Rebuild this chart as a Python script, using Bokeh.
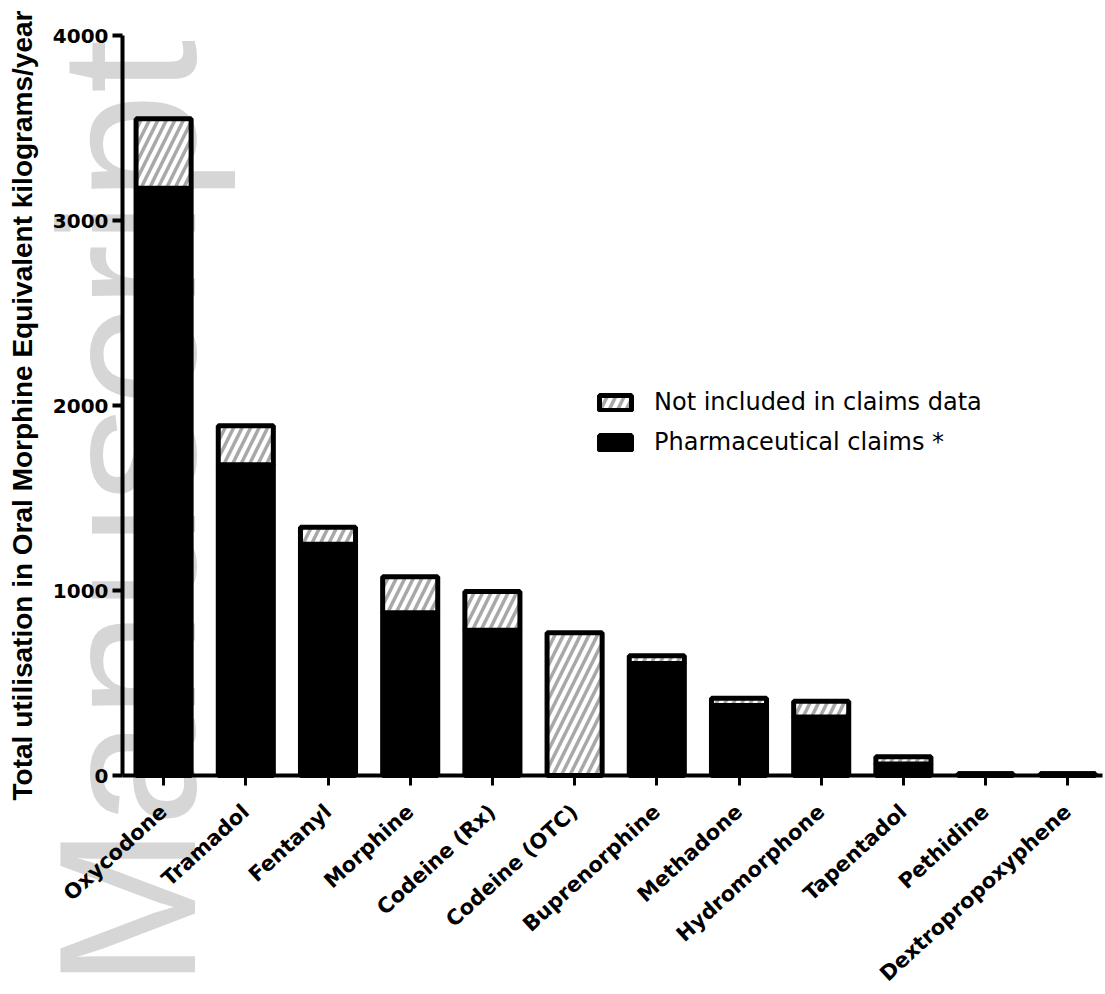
import math
from bokeh.plotting import figure
from bokeh.models import (Range1d, FixedTicker, Legend, LegendItem, Label,
                          ColumnDataSource)
from bokeh.embed import file_html
from bokeh.resources import INLINE

# ---- data ----
categories = ["Oxycodone", "Tramadol", "Fentanyl", "Morphine", "Codeine (Rx)",
              "Codeine (OTC)", "Buprenorphine", "Methadone", "Hydromorphone",
              "Tapentadol", "Pethidine", "Dextropropoxyphene"]
claims = [3175, 1680, 1250, 880, 785, 0, 605, 378, 316, 62, 10, 10]
not_included = [375, 210, 92, 195, 210, 772, 42, 40, 86, 40, 0, 0]
y_ticks = [0, 1000, 2000, 3000, 4000]
y_title = "Total utilisation in Oral Morphine Equivalent kilograms/year"
legend_labels = ["Not included in claims data", "Pharmaceutical claims *"]
watermark = "Manuscript"

xs = list(range(len(categories)))
totals = [c + n for c, n in zip(claims, not_included)]
src = ColumnDataSource(dict(x=xs, claims=claims, total=totals,
                            zero=[0] * len(xs)))

ARIAL = "Liberation Sans"
WIDE = "DejaVu Sans"

# layout: the frame covers the whole canvas, axes are pinned at fixed
# data locations so the watermark can extend into the margins
W, H = 1104, 990
AX_LEFT_PX, AX_BOTTOM_PX, AX_TOP_PX = 122, 775, 35
KX = 82.2                       # px per category
KY = (AX_BOTTOM_PX - AX_TOP_PX) / 4000.0
x0, x1 = -0.5, 11.42
xr = Range1d(x0 - AX_LEFT_PX / KX, x0 + (W - AX_LEFT_PX) / KX)
yr = Range1d(-(H - AX_BOTTOM_PX) / KY, 4000 + AX_TOP_PX / KY)

p = figure(width=W, height=H, x_range=xr, y_range=yr,
           output_backend="svg", toolbar_location=None, min_border=0,
           min_border_left=0, min_border_right=0,
           min_border_top=0, min_border_bottom=0)
p.outline_line_color = None
p.xgrid.visible = False
p.ygrid.visible = False
p.background_fill_color = "white"
p.border_fill_color = "white"

# watermark of the source document (behind the bars)
wm = Label(x=x0 + 5.0 / KX, y=yr.start + 12, text=watermark, angle=math.pi / 2,
           text_font=ARIAL, text_font_size="194px", text_color="#d6d6d6",
           text_alpha=1.0, text_baseline="alphabetic", text_align="left",
           level="underlay")
p.add_layout(wm)

BW = 0.67
r_claims = p.vbar(x="x", bottom="zero", top="claims", width=BW, source=src,
                  fill_color="black", line_color="black", line_width=5)
r_not = p.vbar(x="x", bottom="claims", top="total", width=BW, source=src,
               fill_color="white", line_color="black", line_width=5,
               hatch_pattern="/", hatch_color="#a8a8a8", hatch_weight=3.5,
               hatch_scale=17)

# axes
for ax in (p.xaxis[0], p.yaxis[0]):
    ax.axis_line_width = 4
    ax.axis_line_color = "black"
    ax.major_tick_line_width = 4
    ax.major_tick_line_color = "black"
    ax.major_tick_in = 0
    ax.major_tick_out = 10
    ax.minor_tick_out = 0
    ax.minor_tick_in = 0
    ax.major_label_text_font_style = "bold"
    ax.major_label_text_color = "black"

p.yaxis.fixed_location = x0
p.yaxis.bounds = (0, 4000)
p.yaxis.ticker = FixedTicker(ticks=y_ticks)
p.yaxis.major_label_text_font = WIDE
p.yaxis.major_label_text_font_size = "20px"
p.yaxis.major_label_standoff = 4
p.yaxis.axis_label = y_title
p.yaxis.axis_label_text_font = ARIAL
p.yaxis.axis_label_text_font_style = "bold"
p.yaxis.axis_label_text_font_size = "28px"
p.yaxis.axis_label_text_color = "black"
p.yaxis.axis_label_standoff = 12

p.xaxis.fixed_location = 0
p.xaxis.bounds = (x0, x1)
p.xaxis.ticker = FixedTicker(ticks=xs)
p.xaxis.major_label_overrides = {i: c for i, c in zip(xs, categories)}
p.xaxis.major_label_orientation = 0.74
p.xaxis.major_label_text_font = WIDE
p.xaxis.major_label_text_font_size = "21px"
p.xaxis.major_label_standoff = 23
p.xaxis.major_tick_line_width = 3

legend = Legend(items=[LegendItem(label=legend_labels[0], renderers=[r_not]),
                       LegendItem(label=legend_labels[1], renderers=[r_claims])],
                location=(595, 533), orientation="vertical",
                glyph_width=40, glyph_height=19, label_height=30,
                label_standoff=19, spacing=10, padding=0, margin=0,
                border_line_color=None, background_fill_alpha=0,
                label_text_font=WIDE, label_text_font_size="24px",
                label_text_color="black")
p.add_layout(legend)

open("out.html", "w").write(file_html(p, INLINE))
